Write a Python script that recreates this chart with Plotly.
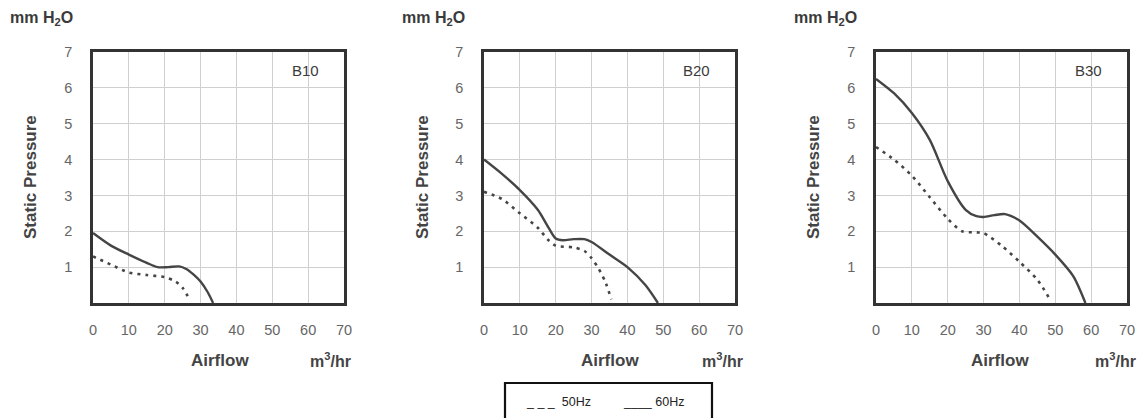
import plotly.graph_objects as go

# ---------------- data ----------------
panel_names = ["B10", "B20", "B30"]

b10_60_x = [0, 5, 10, 15, 18, 21, 24, 26, 28, 30, 32, 33.5]
b10_60_y = [1.95, 1.6, 1.35, 1.12, 1.0, 1.0, 1.02, 0.95, 0.8, 0.6, 0.3, 0.0]
b10_50_x = [0, 5, 10, 15, 20, 23, 25, 27]
b10_50_y = [1.3, 1.07, 0.85, 0.78, 0.72, 0.6, 0.42, 0.08]

b20_60_x = [0, 5, 10, 15, 18, 20, 22, 25, 28, 30, 35, 40, 45, 48.5]
b20_60_y = [4.0, 3.6, 3.15, 2.6, 2.1, 1.8, 1.75, 1.78, 1.78, 1.7, 1.35, 1.0, 0.5, 0.0]
b20_50_x = [0, 5, 10, 15, 18, 20, 25, 28, 30, 32, 34, 35.5]
b20_50_y = [3.1, 2.9, 2.5, 2.1, 1.75, 1.6, 1.55, 1.45, 1.25, 0.95, 0.55, 0.1]

b30_60_x = [0, 5, 10, 15, 20, 25, 28, 30, 33, 36, 40, 45, 50, 55, 58.4]
b30_60_y = [6.25, 5.85, 5.3, 4.55, 3.4, 2.6, 2.42, 2.4, 2.45, 2.48, 2.3, 1.85, 1.35, 0.75, 0.0]
b30_50_x = [0, 5, 10, 15, 20, 24, 28, 30, 35, 40, 45, 48.5]
b30_50_y = [4.35, 4.0, 3.55, 2.95, 2.35, 2.0, 1.97, 1.95, 1.6, 1.15, 0.65, 0.1]

x_ticks = [0, 10, 20, 30, 40, 50, 60, 70]
y_ticks = [1, 2, 3, 4, 5, 6, 7]

series_60 = [(b10_60_x, b10_60_y), (b20_60_x, b20_60_y), (b30_60_x, b30_60_y)]
series_50 = [(b10_50_x, b10_50_y), (b20_50_x, b20_50_y), (b30_50_x, b30_50_y)]

# ---------------- layout helpers ----------------
W, H = 1140, 418
def px(x):
    return x / W
def py(y):
    return 1 - y / H

plot_left = [93, 484, 876]
plot_width = 251
plot_top, plot_bottom = 52, 303

FONT = "Liberation Sans, Arial, sans-serif"
CURVE = "#454545"
TXT = "#3a3a3a"

fig = go.Figure()

for i in range(3):
    sfx = "" if i == 0 else str(i + 1)
    xa, ya = "x" + sfx, "y" + sfx
    x60, y60 = series_60[i]
    x50, y50 = series_50[i]
    fig.add_trace(go.Scatter(x=x50, y=y50, mode="lines", xaxis=xa, yaxis=ya,
                             line=dict(color=CURVE, width=2.6, dash="3px,5px", shape="spline", smoothing=0.8),
                             showlegend=False, hoverinfo="skip"))
    fig.add_trace(go.Scatter(x=x60, y=y60, mode="lines", xaxis=xa, yaxis=ya,
                             line=dict(color=CURVE, width=2.4, shape="spline", smoothing=0.8),
                             showlegend=False, hoverinfo="skip"))
    x0 = plot_left[i]
    axis_common = dict(showline=True, linewidth=2.5, linecolor="#333333", mirror=True,
                       showgrid=True, gridcolor="#cfcfcf", gridwidth=1, zeroline=False,
                       ticks="outside", tickcolor="rgba(0,0,0,0)", automargin=False,
                       tickfont=dict(family=FONT, size=14.5, color="#666666"))
    fig.update_layout(**{
        "xaxis" + sfx: dict(domain=[px(x0), px(x0 + plot_width)], range=[0, 70],
                            tickvals=x_ticks, ticklen=12, anchor=ya, **axis_common),
        "yaxis" + sfx: dict(domain=[py(plot_bottom), py(plot_top)], range=[0, 7],
                            tickvals=y_ticks, ticklen=15, anchor=xa, **axis_common),
    })
    # panel label
    fig.add_annotation(x=59.3, y=6.48, xref=xa, yref=ya, text=panel_names[i], showarrow=False,
                       font=dict(family=FONT, size=15, color=TXT), xanchor="center", yanchor="middle")

# axis titles / units
mm_x = [8, 400, 792]
sp_x = [30, 422, 813]
af_x = [220, 610, 1000]
unit_x = [330, 722, 1115]
for i in range(3):
    fig.add_annotation(x=px(mm_x[i]), y=py(18), xref="paper", yref="paper",
                       text="<b>mm H<sub>2</sub>O</b>", showarrow=False, xanchor="left", yanchor="middle",
                       font=dict(family=FONT, size=16, color=TXT))
    fig.add_annotation(x=px(sp_x[i]), y=py(177), xref="paper", yref="paper",
                       text="<b>Static Pressure</b>", showarrow=False, textangle=-90,
                       xanchor="center", yanchor="middle",
                       font=dict(family=FONT, size=17, color="#444444"))
    fig.add_annotation(x=px(af_x[i]), y=py(360), xref="paper", yref="paper",
                       text="<b>Airflow</b>", showarrow=False, xanchor="center", yanchor="middle",
                       font=dict(family=FONT, size=17, color="#444444"))
    fig.add_annotation(x=px(unit_x[i]), y=py(360), xref="paper", yref="paper",
                       text="<b>m<sup>3</sup>/hr</b>", showarrow=False, xanchor="center", yanchor="middle",
                       font=dict(family=FONT, size=16, color="#444444"))

# legend box
fig.add_shape(type="rect", xref="paper", yref="paper",
              x0=px(505), x1=px(712), y0=py(383), y1=py(430),
              line=dict(color="#111111", width=2.2), fillcolor="rgba(0,0,0,0)")
fig.add_annotation(x=px(524), y=py(402), xref="paper", yref="paper", text="_ _ _  50Hz",
                   showarrow=False, xanchor="left", yanchor="middle",
                   font=dict(family=FONT, size=12.5, color="#222222"))
fig.add_annotation(x=px(621), y=py(402), xref="paper", yref="paper", text="____ 60Hz",
                   showarrow=False, xanchor="left", yanchor="middle",
                   font=dict(family=FONT, size=12.5, color="#222222"))

fig.update_layout(width=W, height=H, margin=dict(l=0, r=0, t=0, b=0),
                  paper_bgcolor="white", plot_bgcolor="white", showlegend=False)

fig.write_html("out.html", config={"displayModeBar": False},
               post_script="document.body.style.margin='0';document.body.style.overflow='hidden';")
